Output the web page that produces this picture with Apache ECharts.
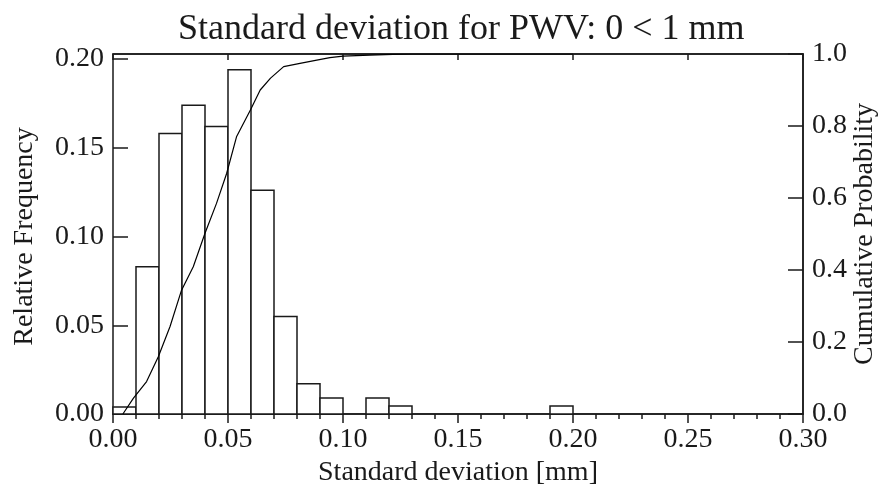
<!DOCTYPE html>
<html>
<head>
<meta charset="utf-8">
<script src="https://cdn.jsdelivr.net/npm/echarts@6/dist/echarts.min.js"></script>
<style>
  html, body { margin: 0; padding: 0; background: #fff; }
  #chart { width: 883px; height: 496px; }
</style>
</head>
<body>
<div id="chart"></div>
<script>
// histogram bins (edges in mm) and relative frequency of each bin
const binEdges = [0.00, 0.01, 0.02, 0.03, 0.04, 0.05, 0.06, 0.07, 0.08, 0.09, 0.10,
  0.11, 0.12, 0.13, 0.14, 0.15, 0.16, 0.17, 0.18, 0.19, 0.20]
const relFreq = [0.004, 0.083, 0.158, 0.174, 0.162, 0.194, 0.126, 0.055, 0.017, 0.009,
  0, 0.009, 0.0045, 0, 0, 0, 0, 0, 0, 0.0045]

// cumulative probability curve
const cumX = [0.0043, 0.0089, 0.0146, 0.0197, 0.0248, 0.0298, 0.0349, 0.040, 0.045, 0.0494,
  0.0537, 0.0598, 0.0640, 0.0685, 0.0742, 0.0813, 0.0886, 0.0943, 0.100, 0.1117, 0.1217, 0.13, 0.20]
const cumP = [0.0, 0.044, 0.09, 0.159, 0.243, 0.344, 0.409, 0.502, 0.585, 0.668,
  0.770, 0.845, 0.90, 0.933, 0.965, 0.974, 0.983, 0.99, 0.994, 0.997, 0.999, 1.0, 1.0]

const font = 'Liberation Serif, Times New Roman, serif'
const ink = '#1a1a1a'

const bins = relFreq.map((v, i) => [binEdges[i], binEdges[i + 1], v]).filter(b => b[2] > 0)
const curve = cumX.map((x, i) => [x, cumP[i]])

const chart = echarts.init(document.getElementById('chart'))
chart.setOption({
  animation: false,
  backgroundColor: '#fff',
  textStyle: { fontFamily: font },
  title: {
    text: 'Standard deviation for PWV: 0 < 1 mm',
    left: 173,
    top: 7,
    textStyle: { fontFamily: font, fontSize: 36, fontWeight: 'normal', color: ink }
  },
  grid: [
    { left: 113, right: 80, top: 54, bottom: 82, outerBoundsMode: 'none', show: true, borderColor: ink, borderWidth: 1.5, backgroundColor: 'transparent' },
    { left: 113, right: 80, top: 59, bottom: 82, outerBoundsMode: 'none' }
  ],
  xAxis: [
    {
      type: 'value', gridIndex: 0, position: 'bottom', min: 0, max: 0.3, interval: 0.05,
      name: 'Standard deviation [mm]', nameLocation: 'middle', nameGap: 40,
      nameTextStyle: { fontFamily: font, fontSize: 28, color: ink },
      axisLine: { onZero: false, lineStyle: { color: ink, width: 1.5 } },
      axisTick: { length: 9, lineStyle: { color: ink, width: 1.5 } },
      minorTick: { show: true, splitNumber: 5, length: 5, lineStyle: { color: ink, width: 1.5 } },
      axisLabel: { margin: 12, fontSize: 28, color: ink, formatter: v => v.toFixed(2) },
      splitLine: { show: false }
    },
    {
      type: 'value', gridIndex: 0, position: 'top', min: 0, max: 0.3, interval: 0.05,
      axisLine: { onZero: false, lineStyle: { color: ink, width: 1.5 } },
      axisTick: { inside: true, length: 6, lineStyle: { color: ink, width: 1.5 } },
      axisLabel: { show: false },
      splitLine: { show: false }
    },
    { type: 'value', gridIndex: 1, min: 0, max: 0.3, show: false }
  ],
  yAxis: [
    {
      type: 'value', gridIndex: 1, position: 'left', min: 0, max: 0.2, interval: 0.05,
      name: 'Relative Frequency', nameLocation: 'middle', nameGap: 74,
      nameTextStyle: { fontFamily: font, fontSize: 28, color: ink },
      axisLine: { show: false, onZero: false },
      axisTick: { inside: true, length: 15, lineStyle: { color: ink, width: 1.5 } },
      axisLabel: { margin: 9, fontSize: 28, color: ink, formatter: v => v.toFixed(2) },
      splitLine: { show: false }
    },
    {
      type: 'value', gridIndex: 0, position: 'right', min: 0, max: 1, interval: 0.2,
      name: 'Cumulative Probability', nameLocation: 'middle', nameGap: 48, nameMoveOverlap: false,
      nameTextStyle: { fontFamily: font, fontSize: 28, color: ink },
      axisLine: { onZero: false, lineStyle: { color: ink, width: 1.5 } },
      axisTick: { inside: true, length: 15, lineStyle: { color: ink, width: 1.5 } },
      axisLabel: { margin: 9, fontSize: 28, color: ink, formatter: v => v.toFixed(1) },
      splitLine: { show: false }
    }
  ],
  series: [
    {
      type: 'custom',
      xAxisIndex: 2,
      yAxisIndex: 0,
      data: bins,
      encode: { x: [0, 1], y: 2 },
      renderItem(params, api) {
        const p0 = api.coord([api.value(0), api.value(2)])
        const p1 = api.coord([api.value(1), 0])
        return {
          type: 'rect',
          shape: { x: p0[0], y: p0[1], width: p1[0] - p0[0], height: p1[1] - p0[1] },
          style: { fill: '#fff', stroke: ink, lineWidth: 1.5 }
        }
      },
      z: 2
    },
    {
      type: 'line',
      xAxisIndex: 0,
      yAxisIndex: 1,
      data: curve,
      showSymbol: false,
      smooth: false,
      lineStyle: { color: '#000', width: 1.2 },
      z: 3
    }
  ]
})
</script>
</body>
</html>
